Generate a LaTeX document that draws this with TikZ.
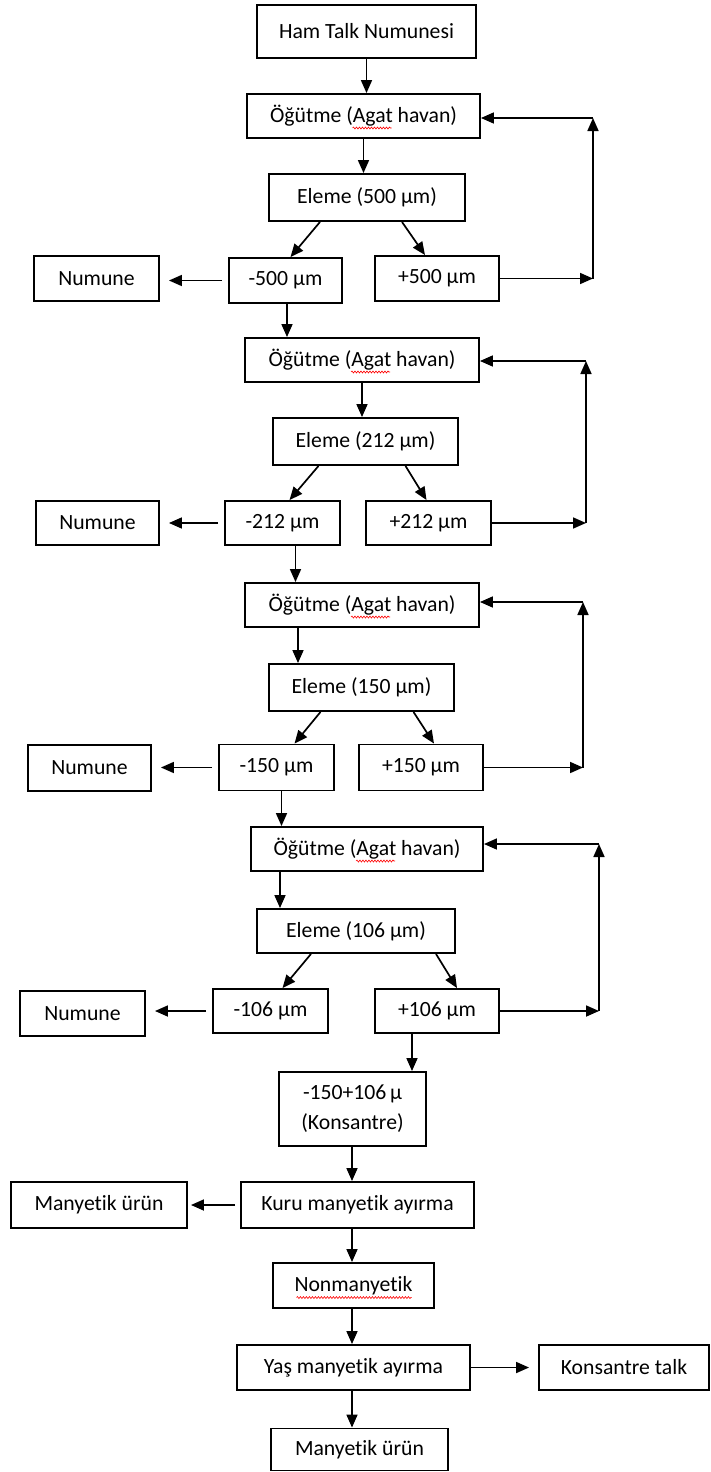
\documentclass[tikz,border=0pt]{standalone}
\usepackage{fontspec}
\setmainfont[Ligatures=NoCommon]{Carlito}
\usetikzlibrary{arrows.meta,calc,decorations.pathmorphing}

\begin{document}
\begin{tikzpicture}[x=1pt,y=-1pt,
     box/.style={draw,line width=1.9pt,inner sep=0pt,align=center,font=\fontsize{21.7}{30}\selectfont},
     arr/.style={line width=1.7pt,-{Triangle[length=13pt,width=11pt]}},
     spell/.style={red,line width=0.6pt,decorate,decoration={snake,amplitude=1pt,segment length=3pt}}]
     \useasboundingbox (0,0) rectangle (710,1472);
            \node[box,minimum width=219,minimum height=53] (ham) at (366.5,31.5) {Ham Talk Numunesi};
            \node[box,minimum width=233,minimum height=44] (og1) at (363.5,116) {Öğütme (Agat havan)};
            \node[box,minimum width=196,minimum height=47] (el1) at (367,197.5) {Eleme (500 µm)};
            \node[box,minimum width=125,minimum height=45] (num1) at (96.5,278.5) {Numune};
            \node[box,minimum width=113,minimum height=45] (m500) at (285.5,280.5) {-500 µm};
            \node[box,minimum width=124,minimum height=45] (p500) at (437,278.5) {+500 µm};
            \node[box,minimum width=234,minimum height=44] (og2) at (362,360) {Öğütme (Agat havan)};
            \node[box,minimum width=185,minimum height=47] (el2) at (365.5,441.5) {Eleme (212 µm)};
            \node[box,minimum width=123,minimum height=44] (num2) at (97.5,523) {Numune};
            \node[box,minimum width=115,minimum height=44] (m212) at (282.5,523) {-212 µm};
            \node[box,minimum width=125,minimum height=44] (p212) at (428.5,523) {+212 µm};
            \node[box,minimum width=234,minimum height=44] (og3) at (362,605) {Öğütme (Agat havan)};
            \node[box,minimum width=185,minimum height=47] (el3) at (361.5,687.5) {Eleme (150 µm)};
            \node[box,minimum width=123,minimum height=46] (num3) at (89.5,768) {Numune};
            \node[box,minimum width=115,minimum height=46] (m150) at (276.5,767.5) {-150 µm};
            \node[box,minimum width=124,minimum height=46] (p150) at (421,767.5) {+150 µm};
            \node[box,minimum width=232,minimum height=44] (og4) at (367,849) {Öğütme (Agat havan)};
            \node[box,minimum width=198,minimum height=44] (el4) at (356,931) {Eleme (106 µm)};
            \node[box,minimum width=125,minimum height=45] (num4) at (82.5,1013.5) {Numune};
            \node[box,minimum width=115,minimum height=44] (m106) at (270.5,1011) {-106 µm};
            \node[box,minimum width=124,minimum height=44] (p106) at (437,1011) {+106 µm};
            \node[box,minimum width=147,minimum height=74] (kons) at (352.5,1109) {-150+106\,µ\\(Konsantre)};
            \node[box,minimum width=233,minimum height=46] (kuru) at (357.5,1205) {Kuru manyetik ayırma};
            \node[box,minimum width=176,minimum height=46] (mu1) at (99,1205) {Manyetik ürün};
            \node[box,minimum width=161,minimum height=45] (non) at (353.5,1285.5) {Nonmanyetik};
            \node[box,minimum width=233,minimum height=45] (yas) at (353.5,1367.5) {Yaş manyetik ayırma};
            \node[box,minimum width=170,minimum height=45] (kt) at (624,1367.5) {Konsantre talk};
            \node[box,minimum width=177,minimum height=42] (mu2) at (359.5,1449.5) {Manyetik ürün};
            \coordinate (f1b) at (593,278.5);
            \coordinate (f1t) at (593,118);
            \coordinate (f2b) at (586,523);
            \coordinate (f2t) at (586,361);
            \coordinate (f3b) at (583,767.5);
            \coordinate (f3t) at (583,602);
            \coordinate (f4b) at (599,1011);
            \coordinate (f4t) at (599,844);
            \coordinate (spine) at (352,0);
            \draw[arr] (ham.south) -- (ham.south |- og1.north);
            \draw[arr] (og1.south) -- (og1.south |- el1.north);
            \draw[arr] ([xshift=-47pt]el1.south) -- ([xshift=5pt]m500.north);
            \draw[arr] ([xshift=35pt]el1.south) -- ([xshift=-12pt]p500.north);
            \draw[arr,shorten <=6pt,shorten >=9pt] (m500.west) -- (m500.west -| num1.east);
            \draw[arr] (p500.east) -- (f1b);
            \draw[arr] (f1b) -- (f1t);
            \draw[arr] (f1t) -- (f1t -| og1.east);
            \draw[arr] ([xshift=1.5pt]m500.south) -- ([xshift=1.5pt]m500.south |- og2.north);
            \draw[arr] (og2.south) -- (og2.south |- el2.north);
            \draw[arr] ([xshift=-47pt]el2.south) -- ([xshift=7pt]m212.north);
            \draw[arr] ([xshift=40pt]el2.south) -- ([xshift=-2pt]p212.north);
            \draw[arr,shorten <=6pt,shorten >=9pt] (m212.west) -- (num2.east);
            \draw[arr] (p212.east) -- (f2b);
            \draw[arr] (f2b) -- (f2t);
            \draw[arr] (f2t) -- (f2t -| og2.east);
            \draw[arr] ([xshift=13pt]m212.south) -- ([xshift=13pt]m212.south |- og3.north);
            \draw[arr] ([xshift=-64pt]og3.south) -- ([xshift=-64pt]og3.south |- el3.north);
            \draw[arr] ([xshift=-41pt]el3.south) -- ([xshift=18pt]m150.north);
            \draw[arr] ([xshift=52pt]el3.south) -- ([xshift=13pt]p150.north);
            \draw[arr,shorten <=6pt,shorten >=9pt] (m150.west) -- (m150.west -| num3.east);
            \draw[arr] (p150.east) -- (f3b);
            \draw[arr] (f3b) -- (f3t);
            \draw[arr] (f3t) -- (f3t -| og3.east);
            \draw[arr] ([xshift=5pt]m150.south) -- ([xshift=5pt]m150.south |- og4.north);
            \draw[arr] ([xshift=-87pt]og4.south) -- ([xshift=-87pt]og4.south |- el4.north);
            \draw[arr] ([xshift=-45pt]el4.south) -- ([xshift=12pt]m106.north);
            \draw[arr] ([xshift=80pt]el4.south) -- ([xshift=20pt]p106.north);
            \draw[arr,shorten <=6pt,shorten >=9pt] (m106.west) -- (m106.west -| num4.east);
            \draw[arr] (p106.east) -- (f4b);
            \draw[arr] (f4b) -- (f4t);
            \draw[arr] (f4t) -- (f4t -| og4.east);
            \draw[arr] ([xshift=-25pt]p106.south) -- ([xshift=-25pt]p106.south |- kons.north);
            \draw[arr] (spine |- kons.south) -- (spine |- kuru.north);
            \draw[arr,shorten <=5pt,shorten >=3pt] (kuru.west) -- (mu1.east);
            \draw[arr] (spine |- kuru.south) -- (spine |- non.north);
            \draw[arr] (spine |- non.south) -- (spine |- yas.north);
            \draw[arr,shorten >=9pt] (yas.east) -- (kt.west);
            \draw[arr] (spine |- yas.south) -- (spine |- mu2.north);
            \draw[spell] ([xshift=-11pt,yshift=-12pt]og1.center) -- ++(39,0);
            \draw[spell] ([xshift=-11pt,yshift=-12pt]og2.center) -- ++(39,0);
            \draw[spell] ([xshift=-11pt,yshift=-12pt]og3.center) -- ++(39,0);
            \draw[spell] ([xshift=-11pt,yshift=-12pt]og4.center) -- ++(39,0);
            \draw[spell] ([xshift=-57pt,yshift=-12pt]non.center) -- ++(115,0);
      \end{tikzpicture}
\end{document}
